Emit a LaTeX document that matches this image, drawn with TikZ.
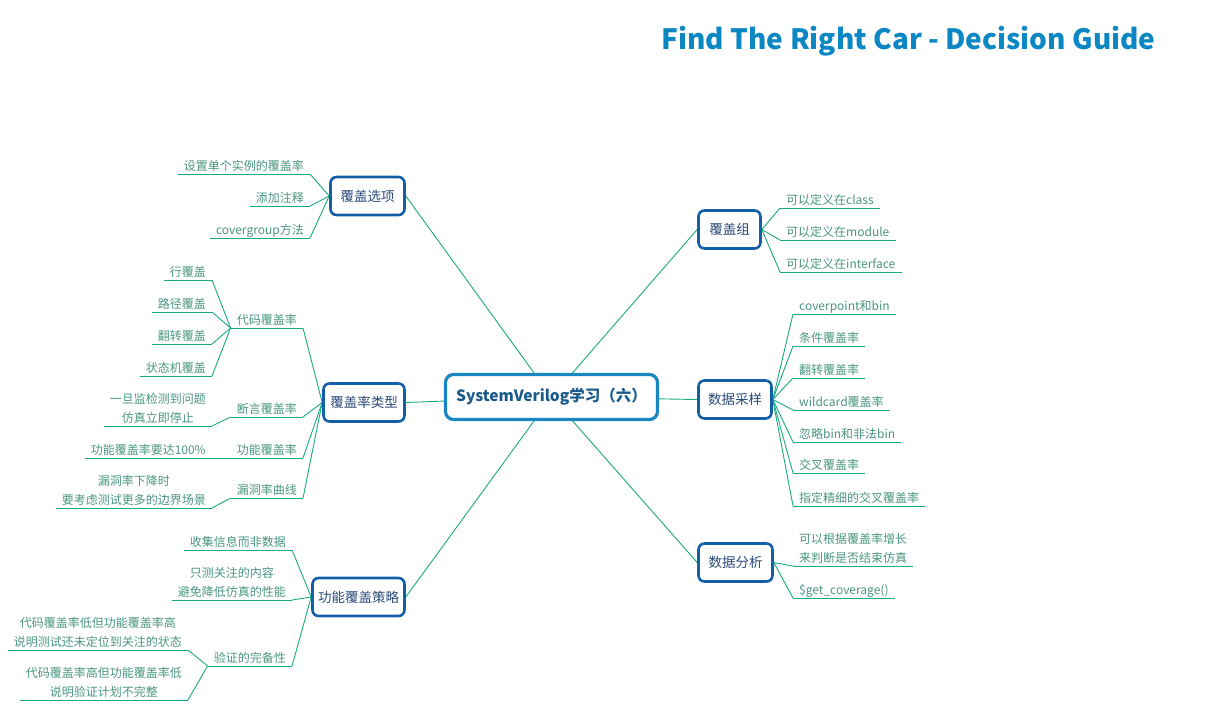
\documentclass[tikz,border=0pt]{standalone}
\usepackage{fontspec}
\setmainfont{Noto Sans CJK SC}
\definecolor{linec}{HTML}{1AAA80}
\definecolor{leafc}{HTML}{4A9680}
\definecolor{subb}{HTML}{1460A8}
\definecolor{subt}{HTML}{2A4A78}
\definecolor{cenb}{HTML}{1A86C2}
\definecolor{cent}{HTML}{1A5A8A}
\definecolor{titc}{HTML}{0B87C3}
\newcommand\leaffont{\fontsize{12}{18.5}\selectfont}
\newcommand\subfont{\fontsize{13.5}{16}\selectfont}
\pgfdeclarelayer{bg}
\pgfsetlayers{bg,main}
\begin{document}
\begin{tikzpicture}[x=1pt,y=-1pt,
  conn/.style={draw=linec, line width=0.9pt},
  leaf/.style={inner xsep=6pt, inner ysep=1.2pt, text depth=2.5pt, text=leafc, font=\leaffont},
  leafL/.style={leaf, anchor=south east, align=center},
  leafR/.style={leaf, anchor=south west, align=left},
  subnode/.style={draw=subb, line width=2.6pt, fill=white, rounded corners=6pt, text=subt, font=\subfont, inner sep=2pt, minimum height=38pt},
  cennode/.style={draw=cenb, line width=3.2pt, fill=white, rounded corners=8pt, text=cent, font=\fontsize{15.5}{18}\selectfont\bfseries, inner sep=2pt, minimum height=45pt, minimum width=212pt}
]
\useasboundingbox (0,0) rectangle (1209,713);

\node[text=titc, font=\fontsize{28}{32}\selectfont\bfseries] (title) at (908.5,41) {Find The Right Car - Decision Guide};

% center
\node[cennode] (c) at (551.5,397) {SystemVerilog学习（六）};

% sub topics
\node[subnode, minimum width=74pt] (o1) at (367.5,196) {覆盖选项};
\node[subnode, minimum width=81pt] (o2) at (364,402.5) {覆盖率类型};
\node[subnode, minimum width=92pt] (o3) at (358.5,597) {功能覆盖策略};
\node[subnode, minimum width=62pt] (r1) at (729.5,229.5) {覆盖组};
\node[subnode, minimum width=73pt] (r2) at (735,399.5) {数据采样};
\node[subnode, minimum width=74pt] (r3) at (735.5,562.5) {数据分析};

% leaves of 覆盖选项
\node[leafL] (a1) at (310,174) {设置单个实例的覆盖率};
\node[leafL] (a2) at (310,206) {添加注释};
\node[leafL] (a3) at (310,238) {covergroup方法};

% leaves of 覆盖率类型
\node[leafL] (b1) at (303,328) {代码覆盖率};
\node[leafL] (b11) at (212,280) {行覆盖};
\node[leafL] (b12) at (212,312) {路径覆盖};
\node[leafL] (b13) at (212,344) {翻转覆盖};
\node[leafL] (b14) at (212,376) {状态机覆盖};
\node[leafL] (b2) at (303,417) {断言覆盖率};
\node[leafL] (b21) at (212,426) {一旦监检测到问题\\仿真立即停止};
\node[leafL] (b3) at (303,458) {功能覆盖率};
\node[leafL] (b31) at (212,458) {功能覆盖率要达100\%};
\node[leafL] (b4) at (303,498) {漏洞率曲线};
\node[leafL] (b41) at (212,508) {漏洞率下降时\\要考虑测试更多的边界场景};

% leaves of 功能覆盖策略
\node[leafL] (c1) at (292,550) {收集信息而非数据};
\node[leafL] (c2) at (292,600) {只测关注的内容\\避免降低仿真的性能};
\node[leafL] (c3) at (292,666) {验证的完备性};
\node[leafL] (c31) at (188,650) {代码覆盖率低但功能覆盖率高\\说明测试还未定位到关注的状态};
\node[leafL] (c32) at (188,700) {代码覆盖率高但功能覆盖率低\\说明验证计划不完整};

% leaves of 覆盖组
\node[leafR] (d1) at (780,208) {可以定义在class};
\node[leafR] (d2) at (780,240) {可以定义在module};
\node[leafR] (d3) at (780,272) {可以定义在interface};

% leaves of 数据采样
\node[leafR] (s1) at (793,314) {coverpoint和bin};
\node[leafR] (s2) at (793,346) {条件覆盖率};
\node[leafR] (s3) at (793,378) {翻转覆盖率};
\node[leafR] (s4) at (793,410) {wildcard覆盖率};
\node[leafR] (s5) at (793,442) {忽略bin和非法bin};
\node[leafR] (s6) at (793,473) {交叉覆盖率};
\node[leafR] (s7) at (793,506) {指定精细的交叉覆盖率};

% leaves of 数据分析
\node[leafR] (e1) at (793,566) {可以根据覆盖率增长\\来判断是否结束仿真};
\node[leafR] (e2) at (793,598) {\$get\_coverage()};

\begin{pgfonlayer}{bg}
  % center to sub topics
  \draw[conn] (c.center) -- (o1.east);
  \draw[conn] (c.center) -- (o2.east);
  \draw[conn] (c.center) -- (o3.east);
  \draw[conn] (c.center) -- (r1.west);
  \draw[conn] (c.center) -- (r2.west);
  \draw[conn] (c.center) -- (r3.west);
  % underlines
  \foreach \n in {a1,a2,a3,b1,b11,b12,b13,b14,b2,b21,b3,b31,b4,b41,c1,c2,c3,c31,c32,d1,d2,d3,s1,s2,s3,s4,s5,s6,s7,e1,e2}
    \draw[conn] (\n.south west) -- (\n.south east);
  % left connectors
  \foreach \n in {a1,a2,a3} \draw[conn] (o1.west) -- (\n.south east);
  \foreach \n in {b1,b2,b3,b4} \draw[conn] (o2.west) -- (\n.south east);
  \foreach \n in {b11,b12,b13,b14} \draw[conn] (b1.south west) -- (\n.south east);
  \draw[conn] (b2.south west) -- (b21.south east);
  \draw[conn] (b3.south west) -- (b31.south east);
  \draw[conn] (b4.south west) -- (b41.south east);
  \foreach \n in {c1,c2,c3} \draw[conn] (o3.west) -- (\n.south east);
  \foreach \n in {c31,c32} \draw[conn] (c3.south west) -- (\n.south east);
  % right connectors
  \foreach \n in {d1,d2,d3} \draw[conn] (r1.east) -- (\n.south west);
  \foreach \n in {s1,s2,s3,s4,s5,s6,s7} \draw[conn] (r2.east) -- (\n.south west);
  \foreach \n in {e1,e2} \draw[conn] (r3.east) -- (\n.south west);
\end{pgfonlayer}
\end{tikzpicture}
\end{document}
